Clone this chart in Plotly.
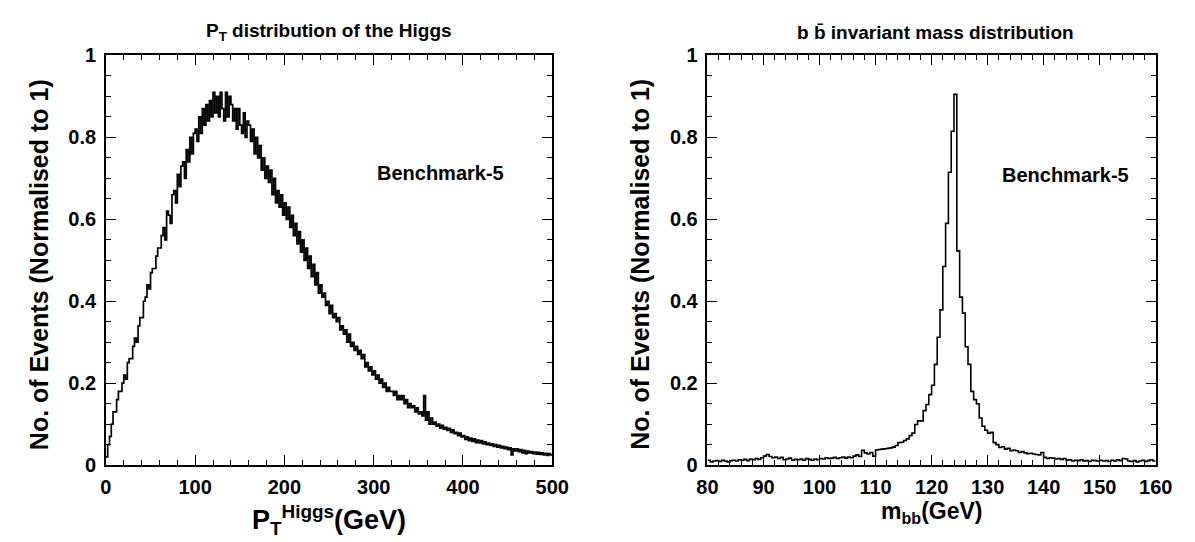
import numpy as np
import plotly.graph_objects as go

FONT = "Liberation Sans"

# Higgs pT histogram, 2 GeV bins from 0 to 500 GeV (normalised to 1)
PT_RANGE = (0, 500)
PT_BIN = 2
pt_counts = [
    0.02, 0.05, 0.07, 0.10, 0.13, 0.13, 0.16, 0.18, 0.18, 0.20,
    0.22, 0.21, 0.25, 0.26, 0.26, 0.29, 0.31, 0.30, 0.34, 0.36,
    0.36, 0.40, 0.41, 0.44, 0.43, 0.47, 0.48, 0.48, 0.51, 0.53,
    0.53, 0.56, 0.58, 0.55, 0.62, 0.61, 0.59, 0.66, 0.67, 0.64,
    0.71, 0.68, 0.73, 0.74, 0.70, 0.77, 0.74, 0.80, 0.76, 0.81,
    0.82, 0.79, 0.85, 0.81, 0.87, 0.83, 0.88, 0.84, 0.89, 0.85,
    0.91, 0.86, 0.90, 0.85, 0.91, 0.87, 0.84, 0.91, 0.85, 0.90,
    0.88, 0.84, 0.87, 0.82, 0.87, 0.83, 0.81, 0.86, 0.80, 0.84,
    0.83, 0.79, 0.82, 0.76, 0.80, 0.75, 0.78, 0.72, 0.75, 0.70,
    0.73, 0.69, 0.72, 0.66, 0.70, 0.64, 0.67, 0.63, 0.66, 0.61,
    0.64, 0.60, 0.63, 0.58, 0.61, 0.56, 0.59, 0.54, 0.57, 0.52,
    0.55, 0.50, 0.53, 0.48, 0.51, 0.46, 0.49, 0.44, 0.47, 0.42,
    0.44, 0.41, 0.42, 0.39, 0.40, 0.37, 0.39, 0.36, 0.37, 0.35,
    0.36, 0.33, 0.34, 0.32, 0.33, 0.30, 0.32, 0.29, 0.30, 0.28,
    0.29, 0.27, 0.28, 0.26, 0.27, 0.24, 0.25, 0.23, 0.24, 0.22,
    0.23, 0.21, 0.22, 0.20, 0.21, 0.19, 0.20, 0.18, 0.19, 0.18,
    0.18, 0.17, 0.18, 0.16, 0.17, 0.16, 0.17, 0.15, 0.16, 0.14,
    0.15, 0.14, 0.145, 0.13, 0.14, 0.125, 0.13, 0.12, 0.17, 0.11,
    0.13, 0.10, 0.115, 0.10, 0.105, 0.095, 0.10, 0.09, 0.097, 0.088,
    0.092, 0.085, 0.09, 0.08, 0.086, 0.077, 0.08, 0.072, 0.078, 0.069,
    0.072, 0.063, 0.069, 0.06, 0.066, 0.058, 0.064, 0.055, 0.061, 0.054,
    0.06, 0.052, 0.057, 0.05, 0.054, 0.048, 0.052, 0.046, 0.05, 0.044,
    0.048, 0.042, 0.046, 0.04, 0.044, 0.038, 0.042, 0.025, 0.04, 0.035,
    0.04, 0.033, 0.038, 0.03, 0.036, 0.028, 0.034, 0.03, 0.033, 0.028,
    0.032, 0.027, 0.031, 0.026, 0.03, 0.025, 0.029, 0.024, 0.028, 0.025,
]

# b-bbar invariant mass histogram, 0.5 GeV bins from 80 to 160 GeV
MBB_RANGE = (80, 160)
MBB_BIN = 0.5
mbb_counts = [
    0.012, 0.008, 0.010, 0.011, 0.009, 0.012, 0.010, 0.008, 0.011, 0.012,
    0.010, 0.013, 0.012, 0.014, 0.011, 0.015, 0.013, 0.016, 0.014, 0.018,
    0.022, 0.026, 0.021, 0.018, 0.020, 0.016, 0.019, 0.013, 0.015, 0.017,
    0.012, 0.014, 0.013, 0.015, 0.012, 0.016, 0.014, 0.012, 0.015, 0.013,
    0.016, 0.015, 0.018, 0.016, 0.017, 0.019, 0.016, 0.018, 0.020, 0.017,
    0.020, 0.018, 0.022, 0.025, 0.021, 0.036, 0.030, 0.027, 0.031, 0.022,
    0.037, 0.038, 0.039, 0.040, 0.041, 0.042, 0.044, 0.048, 0.055, 0.056,
    0.060, 0.064, 0.072, 0.078, 0.099, 0.108, 0.108, 0.133, 0.148, 0.172,
    0.195, 0.246, 0.312, 0.379, 0.485, 0.590, 0.715, 0.815, 0.905, 0.523,
    0.410, 0.371, 0.289, 0.246, 0.180, 0.160, 0.150, 0.115, 0.095, 0.085,
    0.078, 0.080, 0.055, 0.050, 0.043, 0.045, 0.039, 0.041, 0.035, 0.037,
    0.035, 0.031, 0.033, 0.030, 0.028, 0.029, 0.027, 0.026, 0.025, 0.031,
    0.019, 0.016, 0.018, 0.017, 0.015, 0.016, 0.014, 0.016, 0.012, 0.013,
    0.010, 0.012, 0.011, 0.013, 0.010, 0.011, 0.009, 0.012, 0.011, 0.010,
    0.012, 0.010, 0.011, 0.009, 0.012, 0.010, 0.013, 0.011, 0.016, 0.015,
    0.010, 0.009, 0.011, 0.008, 0.010, 0.012, 0.009, 0.011, 0.013, 0.010,
]

LABEL = "Benchmark-5"
Y_TITLE = "No. of Events (Normalised to 1)"


def step_xy(lo, width, counts):
    edges = lo + width * np.arange(len(counts) + 1)
    return edges, list(counts) + [counts[-1]]


W, H = 1195, 542


def px_x(p):
    return p / W


def px_y(p):
    return 1 - p / H


fig = go.Figure()

x1, y1 = step_xy(PT_RANGE[0], PT_BIN, pt_counts)
fig.add_trace(go.Scatter(x=x1, y=y1, mode="lines", line=dict(color="black", width=1.7, shape="hv"),
                         xaxis="x", yaxis="y", showlegend=False))
x2, y2 = step_xy(MBB_RANGE[0], MBB_BIN, mbb_counts)
fig.add_trace(go.Scatter(x=x2, y=y2, mode="lines", line=dict(color="black", width=1.6, shape="hv"),
                         xaxis="x2", yaxis="y2", showlegend=False))

tick_font = dict(family=FONT, size=20, color="black", weight="bold")
common = dict(
    showline=True, linecolor="black", linewidth=1.5, mirror="allticks",
    ticks="inside", ticklen=10, tickwidth=1, tickcolor="black",
    showgrid=False, zeroline=False, tickfont=tick_font,
)
minor = dict(ticks="inside", ticklen=5, tickwidth=1, tickcolor="black", showgrid=False)

dom_y = [px_y(465), px_y(38)]
fig.update_layout(
    width=W, height=H,
    margin=dict(l=0, r=0, t=0, b=0),
    paper_bgcolor="white", plot_bgcolor="white",
    xaxis=dict(common, domain=[px_x(89), px_x(546)], range=list(PT_RANGE), dtick=100,
               minor=dict(minor, dtick=20), anchor="y", ticklabelstandoff=3),
    yaxis=dict(common, domain=dom_y, range=[0, 1], dtick=0.2,
               minor=dict(minor, dtick=0.05), anchor="x", ticklabelstandoff=4),
    xaxis2=dict(common, domain=[px_x(705), px_x(1164)], range=list(MBB_RANGE), dtick=10,
                minor=dict(minor, dtick=2), anchor="y2", ticklabelstandoff=3),
    yaxis2=dict(common, domain=dom_y, range=[0, 1], dtick=0.2,
                minor=dict(minor, dtick=0.05), anchor="x2", ticklabelstandoff=4),
)

ann_font = dict(family=FONT, color="black", weight="bold")
annotations = [
    dict(text="P<sub>T</sub> distribution of the Higgs", x=px_x(317), y=px_y(14),
         font=dict(ann_font, size=19)),
    dict(text="b b\u0304 invariant mass distribution", x=px_x(938), y=px_y(14),
         font=dict(ann_font, size=19)),
    dict(text=Y_TITLE, x=px_x(20), y=px_y(256), textangle=-90, font=dict(ann_font, size=25)),
    dict(text=Y_TITLE, x=px_x(636), y=px_y(256), textangle=-90, font=dict(ann_font, size=25)),
    dict(text="P<sub>T</sub><sup>Higgs</sup>(GeV)", x=px_x(317), y=px_y(522),
         font=dict(ann_font, size=27)),
    dict(text="m<sub>bb</sub>(GeV)", x=px_x(934), y=px_y(514), font=dict(ann_font, size=23)),
]
for a in annotations:
    a.update(xref="paper", yref="paper", showarrow=False, xanchor="center", yanchor="middle")
    fig.add_annotation(**a)

fig.add_annotation(text=LABEL, x=302, y=0.714, xref="x", yref="y", showarrow=False,
                   xanchor="left", yanchor="middle", font=dict(ann_font, size=20))
fig.add_annotation(text=LABEL, x=132.2, y=0.707, xref="x2", yref="y2", showarrow=False,
                   xanchor="left", yanchor="middle", font=dict(ann_font, size=20))

fig.write_html("out.html")
